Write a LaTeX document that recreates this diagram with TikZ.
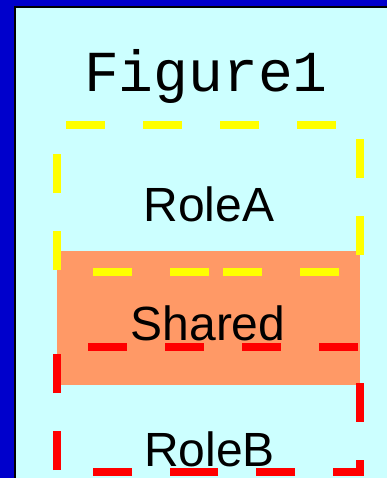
\documentclass[tikz,border=0pt]{standalone}
\usepackage{fontspec}
\usepackage{tikz}
\newfontfamily\labelfont{Liberation Sans}
\newfontfamily\titlefont{Liberation Mono}
\definecolor{frameblue}{RGB}{0,0,204}
\definecolor{panelcyan}{RGB}{204,255,255}
\definecolor{sharedfill}{RGB}{255,153,102}
\definecolor{roleyellow}{RGB}{255,255,0}
\definecolor{rolered}{RGB}{255,0,0}
\tikzset{
  rolebox/.style={line width=6pt, dash pattern=on 29.25pt off 28.5pt, line join=miter},
  rolelabel/.style={anchor=base, inner sep=0pt, font=\labelfont\fontsize{36}{40}\selectfont}
}
\begin{document}
\begin{tikzpicture}[x=0.75pt,y=-0.75pt]
\useasboundingbox (0,0) rectangle (387,478);
\fill[frameblue](0,0) rectangle (387,478);
\fill[black](14,6) rectangle (387,478);
\fill[panelcyan](16,8) rectangle (387,478);
\fill[sharedfill](57,251) rectangle (360,385);
\draw[rolebox,roleyellow](209,272)--(57,272)--(57,125)--(360,125)--(360,272)--cycle;
\draw[rolebox,rolered](209,472)--(57,472)--(57,347)--(360,347)--(360,472)--cycle;
\node(title)[anchor=base,inner sep=0pt,font=\titlefont\fontsize{43.5}{48}\selectfont]at(206,91){Figure1};
\node(roleA)[rolelabel]at(209,221){RoleA};
\node(shared)[rolelabel]at(208,340){Shared};
\node(roleB)[rolelabel]at(209.5,466){RoleB};
\end{tikzpicture}
\end{document}
